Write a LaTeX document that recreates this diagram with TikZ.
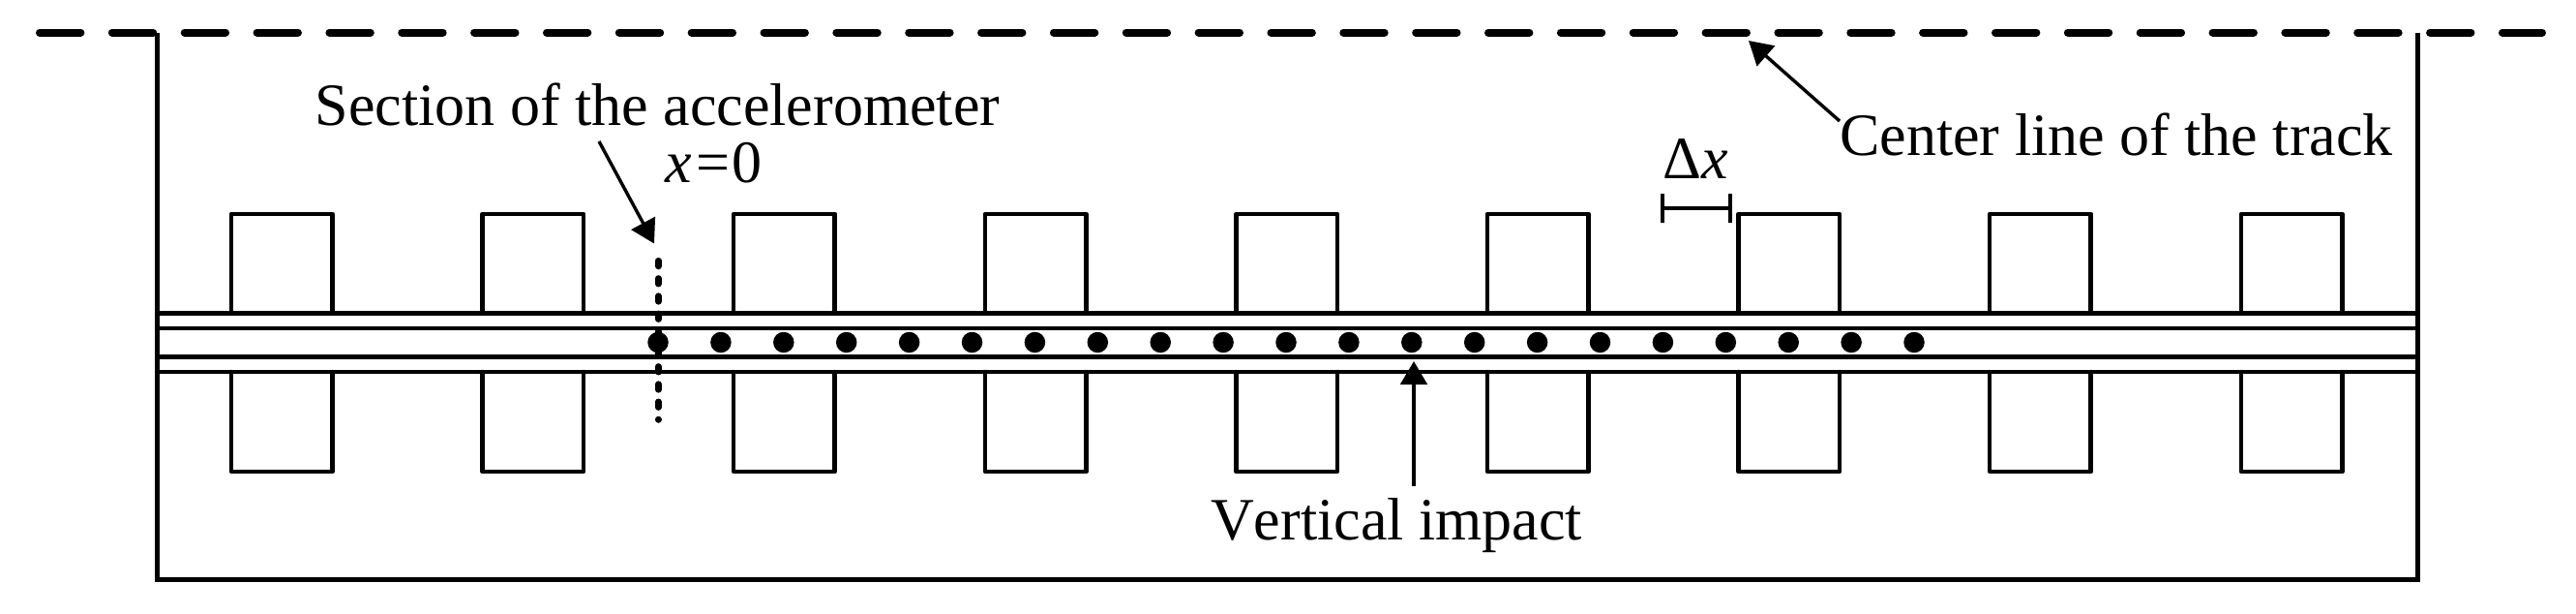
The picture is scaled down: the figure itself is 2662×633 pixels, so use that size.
\documentclass[tikz,border=0pt]{standalone}
\usepackage{fontspec}
\setmainfont[Kerning=Off]{Liberation Serif}
\usetikzlibrary{arrows.meta}
\tikzset{
  wall/.style={line width=5pt,line join=miter},
  tie/.style={line width=4.5pt,line cap=round,line join=round},
  railheavy/.style={line width=4.7pt},
  raillight/.style={line width=3.8pt},
  centerdash/.style={line width=8pt,line cap=round,dash pattern=on 42.4pt off 32.45pt},
  sectiondash/.style={line width=6.5pt,line cap=round,dash pattern=on 5.8pt off 12.4pt},
  pointer/.style={line width=3.4pt,-{Triangle[length=24pt,width=27.5pt]}},
  label/.style={inner sep=0pt,anchor=base west,font=\fontsize{62}{62}\selectfont},
  gauge/.style={line width=3.4pt},
  sensor/.style={circle,fill=black,draw=none,minimum size=21.5pt,inner sep=0pt}
}
\begin{document}
\begin{tikzpicture}[x=1pt,y=-1pt]
\useasboundingbox (0,0) rectangle (2662,633);
% centre line and frame
\coordinate (cl0) at (41,33.5);
\coordinate (cl1) at (2627,33.5);
\draw[centerdash] (cl0) -- (cl1);
\draw[wall] (162,33.5) -- (162,598) -- (2498,598) -- (2498,33.5);
% sleepers
\foreach \i in {0,...,8}{
  \pgfmathsetmacro{\xa}{239+259.6*\i}
  \pgfmathsetmacro{\xb}{\xa+104.5}
  \draw[tie] (\xa,323) -- (\xa,221) -- (\xb,221) -- (\xb,323);
  \draw[tie] (\xa,384) -- (\xa,487) -- (\xb,487) -- (\xb,384);
}
% rails
\draw[railheavy] (162,323.4) -- (2498,323.4);
\draw[raillight] (162,339) -- (2498,339);
\draw[railheavy] (162,368.6) -- (2498,368.6);
\draw[raillight] (162,383.6) -- (2498,383.6);
% section line
\coordinate (s0) at (680.3,269.2);
\coordinate (s1) at (680.3,433.5);
\draw[sectiondash] (s0) -- (s1);
% sensors
\foreach \i in {0,...,20}{
  \node[sensor] (d\i) at (680+64.9*\i,353.5) {};
}
% labels
\node[label] (sec) at (325.5,129) {Section of the accelerometer};
\node[label] (xzero) at (687,188) {{\itshape x}\hspace{5pt}=\hspace{1.5pt}0};
\node[label] (center) at (1901,160.7) {Center line of the track};
\node[label] (dx) at (1718.6,184) {Δ{\itshape x}};
\node[label] (vert) at (1251,557) {Vertical impact};
% pointers
\coordinate (a0) at (619,146);
\coordinate (a1) at (676,251.5);
\draw[pointer] (a0) -- (a1);
\coordinate (b0) at (1901,125);
\coordinate (b1) at (1807,42);
\draw[pointer] (b0) -- (b1);
\coordinate (c0) at (1461,502);
\coordinate (c1) at (1461,373);
\draw[pointer] (c0) -- (c1);
% gauge
\coordinate (g0) at (1718,215);
\coordinate (g1) at (1788,215);
\draw[gauge] (g0) -- (g1);
\draw[gauge] (1718,200) -- (1718,230);
\draw[gauge] (1788,200) -- (1788,230);
\end{tikzpicture}
\end{document}
